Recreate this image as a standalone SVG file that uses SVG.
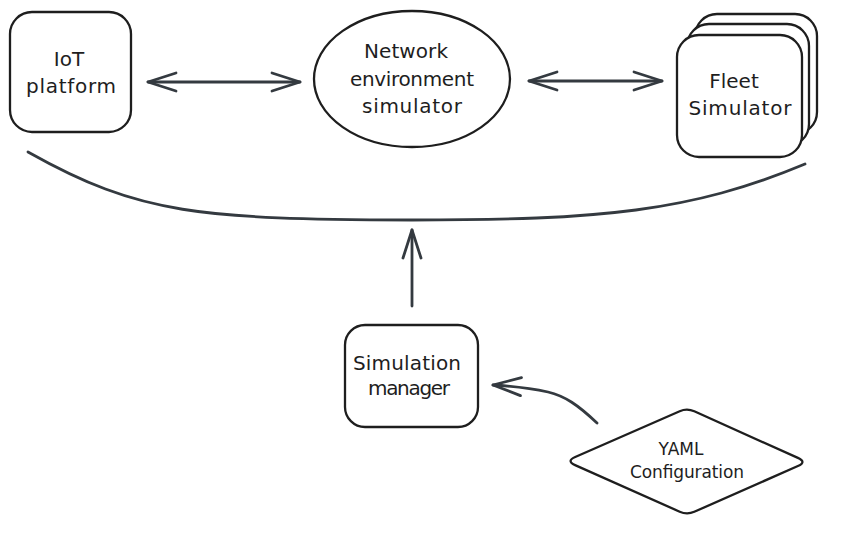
<svg xmlns="http://www.w3.org/2000/svg" width="842" height="540" viewBox="0 0 842 540">
<style>
.shape{fill:#ffffff;stroke:#1e1e1e;stroke-width:2.3;stroke-linejoin:round}
.conn{fill:none;stroke:#343a40;stroke-width:2.8;stroke-linecap:round;stroke-linejoin:round}
.lbl{font-family:"DejaVu Sans","Liberation Sans",sans-serif;font-size:20px;fill:#1e1e1e;text-anchor:middle}
.small{font-size:17px}
</style>
<defs>
<marker id="head" markerUnits="userSpaceOnUse" markerWidth="34" markerHeight="24" refX="30" refY="11" orient="auto-start-reverse" viewBox="0 0 34 24">
<path d="M2,2 L30,11 L2,20" fill="none" stroke="#343a40" stroke-width="2.8" stroke-linecap="round" stroke-linejoin="round"/>
</marker>
</defs>
<rect width="842" height="540" fill="#ffffff"/>
<g id="iot-platform">
<rect class="shape" x="10" y="12" width="121" height="120" rx="22"/>
<text class="lbl" x="69" y="66">IoT</text>
<text class="lbl" x="71" y="93" textLength="90">platform</text>
</g>
<g id="network-simulator">
<ellipse class="shape" cx="412" cy="79" rx="98" ry="68"/>
<text class="lbl" x="406" y="58" textLength="84">Network</text>
<text class="lbl" x="412" y="86" textLength="124">environment</text>
<text class="lbl" x="412" y="113" textLength="100">simulator</text>
</g>
<g id="fleet-simulator">
<rect class="shape" x="695" y="14" width="122" height="120" rx="22"/>
<rect class="shape" x="687" y="24" width="122" height="122" rx="22"/>
<rect class="shape" x="677" y="35" width="125" height="122" rx="22"/>
<text class="lbl" x="734" y="88">Fleet</text>
<text class="lbl" x="740" y="115" textLength="103">Simulator</text>
</g>
<g id="simulation-manager">
<rect class="shape" x="345" y="325" width="133" height="102" rx="20"/>
<text class="lbl" x="407" y="370" textLength="108">Simulation</text>
<text class="lbl" x="409" y="395" textLength="82">manager</text>
</g>
<g id="yaml-configuration">
<path class="shape" d="M575.2,457 L679.7,411.2 Q687,408 694.3,411.3 L797.9,457.9 Q807,462 797.9,466 L694.3,511.8 Q687,515 679.7,511.7 L575.1,465.1 Q566,461 575.2,457 Z"/>
<text class="lbl small" x="681" y="455">YAML</text>
<text class="lbl small" x="687" y="478" textLength="114">Configuration</text>
</g>
<g id="connectors">
<line class="conn" x1="148" y1="82" x2="300" y2="82" marker-start="url(#head)" marker-end="url(#head)"/>
<line class="conn" x1="529" y1="81" x2="662" y2="81" marker-start="url(#head)" marker-end="url(#head)"/>
<path class="conn" d="M28,152 C140,215 200,219 412,220 C600,220 690,212 805,164"/>
<line class="conn" x1="412" y1="306" x2="412" y2="230" marker-end="url(#head)"/>
<path class="conn" d="M597,423 C578,405 565,396 548,392 C530,388 510,386 493,385" marker-end="url(#head)"/>
</g>
</svg>
